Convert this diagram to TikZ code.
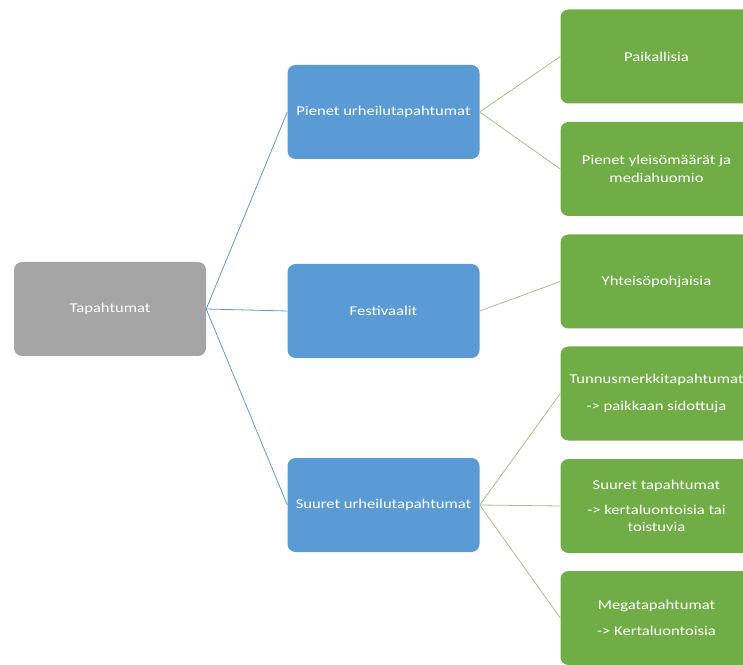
\documentclass[tikz,border=0pt]{standalone}
\usepackage{fontspec}
\setmainfont[FakeStretch=1.23]{Carlito}
\usepackage{tikz}
\usetikzlibrary{positioning,calc}
\definecolor{boxgray}{HTML}{A5A5A5}
\definecolor{boxblue}{HTML}{5B9BD5}
\definecolor{boxgreen}{HTML}{70AD47}
\definecolor{linegreen}{HTML}{A8BF8C}
\tikzstyle{box} = [rounded corners=8pt, minimum width=192pt, minimum height=94pt, text=white, align=center, font=\fontsize{13.5}{17.5}\selectfont, inner sep=0pt]
\tikzstyle{bluelink} = [draw=boxblue, line width=0.8pt]
\tikzstyle{greenlink} = [draw=linegreen, line width=0.8pt]

\begin{document}
\begin{tikzpicture}[x=1pt, y=1pt]
    \clip (0,0) rectangle (743,664);

    % Root
    \node[box, fill=boxgray] (root) at (110,355) {Tapahtumat};

    % Middle level
    \node[box, fill=boxblue] (pienet) at (383.5,552) {Pienet urheilutapahtumat};
    \node[box, fill=boxblue] (festiv) at (383.5,353) {Festivaalit};
    \node[box, fill=boxblue] (suuret) at (383.5,159) {Suuret urheilutapahtumat};
    \foreach \n in {pienet,festiv,suuret} {
        \draw[bluelink] (root.east) -- (\n.west);
    }

    % Leaves
    \node[box, fill=boxgreen] (paik) at (656.5,607.5) {Paikallisia};
    \node[box, fill=boxgreen] (yleiso) at (656.5,495) {Pienet yleisömäärät ja\\mediahuomio};
    \node[box, fill=boxgreen] (yhteiso) at (656.5,382.5) {Yhteisöpohjaisia};
    \node[box, fill=boxgreen] (tunnus) at (656.5,270.5) {Tunnusmerkkitapahtumat\\[9pt]-> paikkaan sidottuja};
    \node[box, fill=boxgreen] (isot) at (656.5,158) {Suuret tapahtumat\\[7pt]-> kertaluontoisia tai\\toistuvia};
    \node[box, fill=boxgreen] (mega) at (656.5,46) {Megatapahtumat\\[8pt]-> Kertaluontoisia};

    \foreach \a/\b in {pienet/paik,pienet/yleiso,festiv/yhteiso,suuret/tunnus,suuret/isot,suuret/mega} {
        \draw[greenlink] (\a.east) -- (\b.west);
    }
\end{tikzpicture}
\end{document}
